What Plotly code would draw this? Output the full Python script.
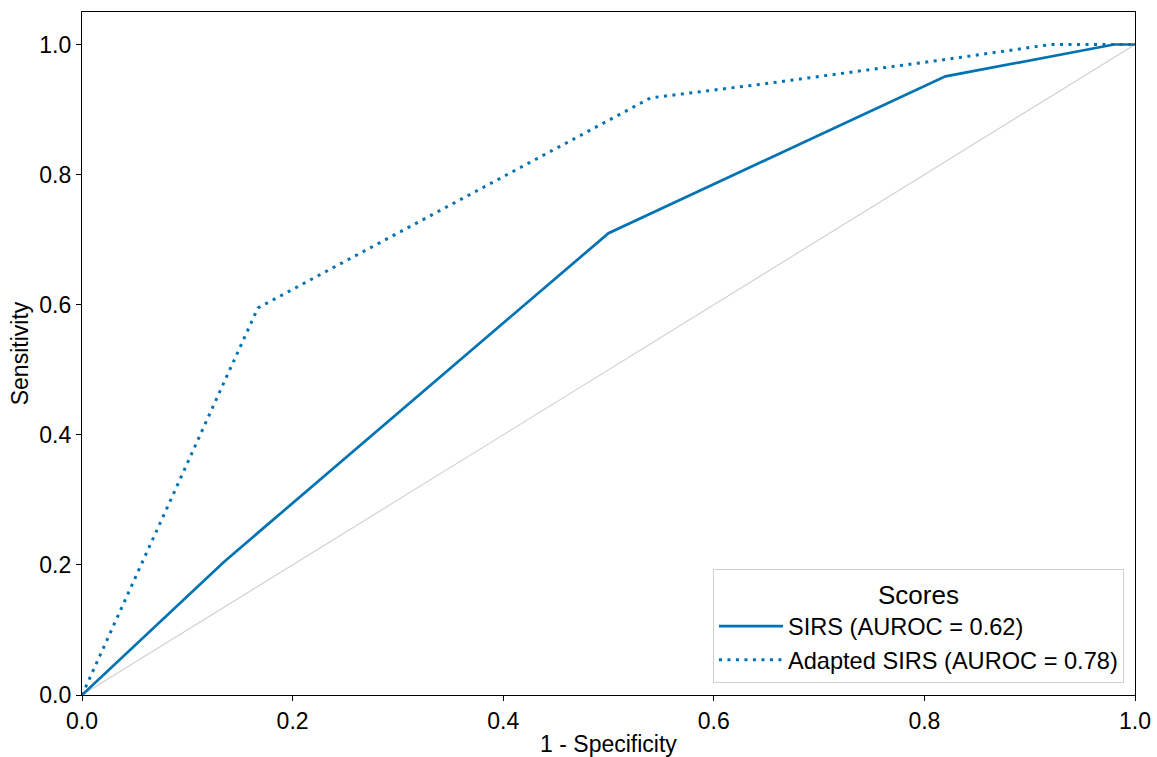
import plotly.graph_objects as go

sirs_fpr = [0.0, 0.135, 0.5, 0.82, 0.98, 1.0]
sirs_tpr = [0.0, 0.205, 0.71, 0.951, 1.0, 1.0]
adapted_fpr = [0.0, 0.167, 0.54, 0.65, 0.82, 0.92, 1.0]
adapted_tpr = [0.0, 0.595, 0.918, 0.94, 0.977, 1.0, 1.0]
diag = [0.0, 1.0]
tick_vals = [0.0, 0.2, 0.4, 0.6, 0.8, 1.0]
tick_text = ["0.0", "0.2", "0.4", "0.6", "0.8", "1.0"]

blue = "#0173B2"
FONT = "Liberation Sans, Arial"
fig = go.Figure()
fig.add_trace(go.Scatter(x=diag, y=diag, mode="lines", line=dict(color="#d3d3d3", width=1.2),
                         showlegend=False, hoverinfo="skip"))
fig.add_trace(go.Scatter(x=sirs_fpr, y=sirs_tpr, mode="lines", name="SIRS (AUROC = 0.62)",
                         line=dict(color=blue, width=2.7)))
fig.add_trace(go.Scatter(x=adapted_fpr, y=adapted_tpr, mode="lines", name="Adapted SIRS (AUROC = 0.78)",
                         line=dict(color=blue, width=3, dash="3px,5.5px")))

axis_common = dict(showline=True, linecolor="black", linewidth=1.2, mirror=True, automargin=False,
                   ticks="outside", ticklen=5, tickcolor="black", showgrid=False, zeroline=False,
                   tickvals=tick_vals, ticktext=tick_text,
                   tickfont=dict(size=23, color="black", family=FONT))
fig.update_xaxes(range=[0, 1], title=dict(text="1 - Specificity", font=dict(size=23, color="black"), standoff=6),
                 **axis_common)
fig.update_yaxes(range=[0, 1.05], title=dict(text="Sensitivity", font=dict(size=23, color="black"), standoff=4),
                 **axis_common)

fig.update_layout(
    width=1157, height=757,
    margin=dict(l=82, r=22, t=12, b=62),
    plot_bgcolor="white", paper_bgcolor="white",
    font=dict(family=FONT, color="black", size=23),
    legend=dict(x=0.9895, y=0.017, xanchor="right", yanchor="bottom",
                bgcolor="rgba(255,255,255,0.9)", bordercolor="#d0d0d0", borderwidth=1,
                title=dict(text="Scores", side="top center", font=dict(size=26)),
                font=dict(size=23.6), itemwidth=64, tracegroupgap=2),
)
fig.write_html("out.html")
